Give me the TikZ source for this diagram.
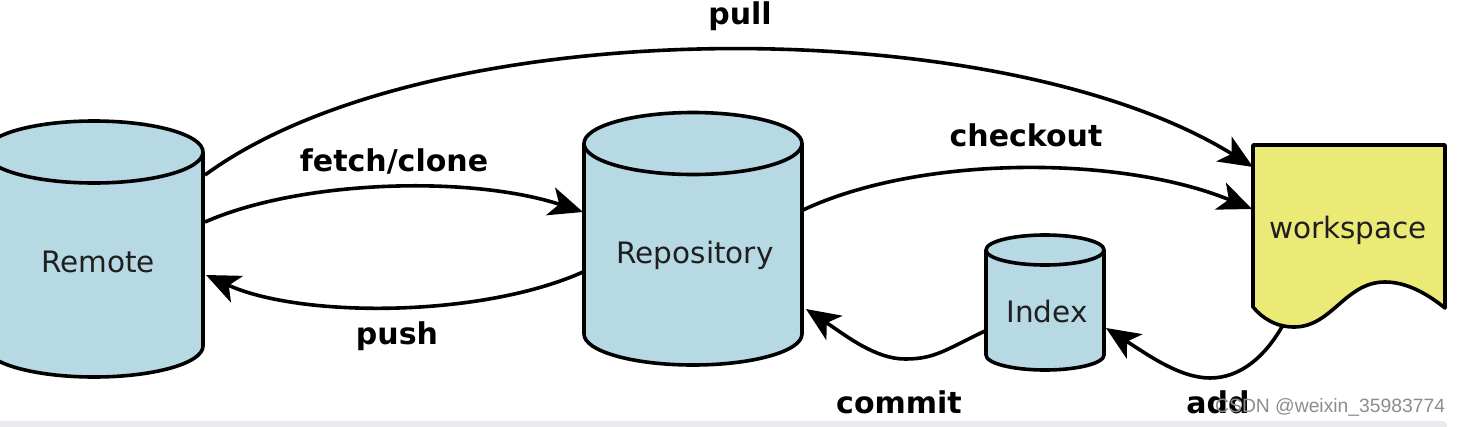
\documentclass[tikz,border=0pt]{standalone}
\usepackage{fontspec}
\setmainfont{DejaVu Sans}
\newfontfamily\wmfont{Liberation Sans}
\usetikzlibrary{arrows.meta}
\definecolor{cylblue}{HTML}{B6D9E4}
\definecolor{wsyellow}{HTML}{ECEA76}
\definecolor{stripgray}{HTML}{E9E9EE}
\newcommand{\mycyl}[5]{% cx, ytop, ybot, rx, ry
  \filldraw[shapeline,fill=cylblue] (#1-#4,-#2) -- (#1-#4,-#3)
    arc[start angle=180,end angle=360,x radius=#4,y radius=#5]
    -- (#1+#4,-#2)
    arc[start angle=0,end angle=180,x radius=#4,y radius=#5] -- cycle;
  \draw[shapeline] (#1-#4,-#2) arc[start angle=180,end angle=360,x radius=#4,y radius=#5];
}
\begin{document}
\begin{tikzpicture}[x=1pt,y=1pt,
  shapeline/.style={line width=3.6pt,line join=round},
  conn/.style={line width=3.6pt,-{Stealth[length=34pt,width=29pt,inset=9pt]}},
  shapetext/.style={anchor=base,inner sep=0pt,text=black!88,font=\fontsize{29.5}{34}\selectfont},
  cmdtext/.style={anchor=base,inner sep=0pt,font=\fontsize{30}{35}\selectfont\bfseries}]
\useasboundingbox (0,0) rectangle (1462,-426);
% bottom strip
\fill[stripgray,rounded corners=4pt] (-10,-421) rectangle (1447,-436);
% shapes
\mycyl{94}{152}{346}{109}{31}
\mycyl{693}{143.5}{334}{109}{31}
\mycyl{1045}{250}{355}{59}{15}
\filldraw[shapeline,fill=wsyellow] (1253,-145) -- (1445,-145) -- (1445,-308)
  .. controls (1425,-292) and (1405,-282) .. (1385,-282)
  .. controls (1345,-282) and (1332,-327) .. (1294,-327)
  .. controls (1276,-327) and (1262,-318) .. (1253,-307) -- cycle;
% shape labels
\node[shapetext] (remote) at (98,-272) {Remote};
\node[shapetext] (repo) at (695,-263) {Repository};
\node[shapetext] (index) at (1047,-322) {Index};
\node[shapetext] (ws) at (1348,-238) {workspace};
% connection points
\coordinate (rem-pull) at (205,-175);
\coordinate (rem-fetch) at (205,-222);
\coordinate (rem-push) at (206,-275);
\coordinate (repo-fetch) at (583,-212);
\coordinate (repo-push) at (583,-272);
\coordinate (repo-co) at (803,-210);
\coordinate (repo-commit) at (806,-309);
\coordinate (ws-pull) at (1253,-167);
\coordinate (ws-co) at (1252,-209);
\coordinate (ws-add) at (1283,-325);
\coordinate (idx-commit) at (987,-330);
\coordinate (idx-add) at (1106,-328);
% connectors
\draw[conn] (rem-pull) .. controls (430,-10) and (1000,-10) .. (ws-pull);
\draw[conn] (rem-fetch) .. controls (300,-180) and (470,-175) .. (repo-fetch);
\draw[conn] (repo-push) .. controls (480,-318) and (300,-318) .. (rem-push);
\draw[conn] (repo-co) .. controls (920,-155) and (1120,-155) .. (ws-co);
\draw[conn] (idx-commit) .. controls (945,-350) and (935,-359) .. (905,-359)
  .. controls (875,-359) and (845,-335) .. (repo-commit);
\draw[conn] (ws-add) .. controls (1265,-357) and (1240,-378) .. (1210,-378)
  .. controls (1180,-378) and (1148,-355) .. (idx-add);
% command labels
\node[cmdtext] (lpull) at (740,-24) {pull};
\node[cmdtext] (lfetch) at (394,-171) {fetch/clone};
\node[cmdtext] (lpush) at (397,-344) {push};
\node[cmdtext] (lco) at (1026,-146) {checkout};
\node[cmdtext] (lcommit) at (899,-413) {commit};
\node[cmdtext] (ladd) at (1218,-413) {add};
% watermark (overlaps "add" as in the reference)
\node[anchor=base west,inner sep=0pt,text=black!45,font=\wmfont\fontsize{19.3}{22}\selectfont] (wm) at (1215,-412) {CSDN @weixin\_35983774};
\end{tikzpicture}
\end{document}
